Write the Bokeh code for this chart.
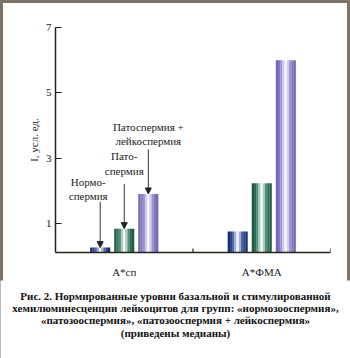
from bokeh.plotting import figure
from bokeh.layouts import column
from bokeh.models import (ColumnDataSource, FactorRange, Range1d, FixedTicker,
                          Arrow, NormalHead)
from bokeh.transform import dodge
from bokeh.core.properties import value
from bokeh.embed import file_html
from bokeh.resources import INLINE

# ---- data ----
categories = ["A*сп", "A*ФМА"]
normo = [0.27, 0.76]
pato = [0.85, 2.24]
leuko = [1.91, 6.0]
y_ticks = [1, 3, 5, 7]
y_label = "I, усл. ед."
ann_normo = ["Нормо-", "спермия"]
ann_pato = ["Пато-", "спермия"]
ann_leuko = ["Патоспермия +", "лейкоспермия"]
caption = [
    "Рис. 2. Нормированные уровни базальной и стимулированной",
    "хемилюминесценции лейкоцитов для групп: «нормозооспермия»,",
    "«патозооспермия», «патозооспермия + лейкоспермия»",
    "(приведены медианы)",
]

SERIF = "Liberation Serif"

src = ColumnDataSource(dict(cat=categories, normo=normo, pato=pato, leuko=leuko))

p = figure(width=350, height=280, x_range=FactorRange(factors=categories, range_padding=0),
           y_range=Range1d(0.12, 7), output_backend="svg", toolbar_location=None,
           min_border_left=55, min_border_right=20, min_border_top=27, min_border_bottom=26)
p.frame_align = False
p.outline_line_color = None
p.xgrid.grid_line_color = None
p.ygrid.grid_line_color = None
p.background_fill_color = "white"
p.border_fill_color = None

# bars drawn as vertical strips for a cylindrical shading
bar_w = 0.145
n = 9
profile = [0, 1, 2, 3, 4, 3, 2, 1, 0]
palettes = {
    "normo": ["#1a2d66", "#2b4789", "#4766a5", "#a3b3d8", "#f4f6fc"],
    "pato": ["#22574a", "#2f6e5a", "#4f8d75", "#a9ccbb", "#f4faf7"],
    "leuko": ["#7468b2", "#8477c2", "#9d91d3", "#d2cbef", "#f8f6fe"],
}
offsets = {"normo": -0.175, "pato": 0.0, "leuko": 0.175}
sw = bar_w / n
for key in ["normo", "pato", "leuko"]:
    for k in range(n):
        off = offsets[key] + (k - (n - 1) / 2) * sw
        p.vbar(x=dodge("cat", off, range=p.x_range), top=key, bottom=0, width=sw * 1.05,
               source=src, fill_color=palettes[key][profile[k]], line_color=None)

# axes
p.yaxis.ticker = FixedTicker(ticks=y_ticks)
p.yaxis.axis_label = y_label
p.yaxis.axis_label_text_font = SERIF
p.yaxis.axis_label_text_font_style = "normal"
p.yaxis.axis_label_text_font_size = "11px"
p.yaxis.axis_label_text_color = "#222"
p.yaxis.axis_label_standoff = 3
p.yaxis.major_label_text_font = SERIF
p.yaxis.major_label_text_font_size = "11px"
p.yaxis.major_label_text_color = "#222"
p.yaxis.major_label_standoff = 4
p.yaxis.major_tick_in = 6
p.yaxis.major_tick_out = 0
p.yaxis.minor_tick_line_color = None
p.yaxis.axis_line_width = 1.5
p.yaxis.axis_line_color = "#222"
p.yaxis.major_tick_line_color = "#222"

p.xaxis.major_tick_line_color = None
p.xaxis.major_label_text_font = SERIF
p.xaxis.major_label_text_font_size = "11px"
p.xaxis.major_label_text_color = "#222"
p.xaxis.major_label_standoff = 7
p.xaxis.axis_line_width = 1.5
p.xaxis.axis_line_color = "#2a2418"

# category boundary ticks
p.segment(x0=[1, 2], x1=[1, 2], y0=[0.12, 0.12], y1=[0.24, 0.24], line_color="#2a2418", line_width=1.2)

# annotations
def annotate(lines, x, ys, arrow_y0, bar_x, bar_top):
    for line, y in zip(lines, ys):
        p.text(x=[x], y=[y], text=[line], text_font=value(SERIF), text_font_size="11px",
               text_align="center", text_baseline="middle", text_color="#222")
    p.add_layout(Arrow(end=NormalHead(size=6, fill_color="#222", line_color="#222"),
                       x_start=bar_x, y_start=arrow_y0, x_end=bar_x, y_end=bar_top,
                       line_color="#333", line_width=1))

annotate(ann_normo, 0.5 + offsets["normo"] - 0.087, [2.27, 1.86], 1.67, 0.5 + offsets["normo"], normo[0])
annotate(ann_pato, 0.5, [3.06, 2.61], 2.21, 0.5 + offsets["pato"], pato[0])
annotate(ann_leuko, 0.5 + offsets["leuko"], [3.97, 3.52], 3.27, 0.5 + offsets["leuko"], leuko[0])

# caption panel (pixel coordinates, y downward)
cap = figure(width=350, height=78, x_range=Range1d(0, 350), y_range=Range1d(78, 0),
             output_backend="svg", toolbar_location=None,
             x_axis_location=None, y_axis_location=None,
             min_border=0, min_border_left=0, min_border_right=0, min_border_top=0, min_border_bottom=0)
cap.frame_align = False
cap.grid.visible = False
cap.outline_line_color = None
cap.background_fill_color = "white"
cap.border_fill_color = None
cap_y = [15, 27.3, 39.6, 52]
cap.text(x=[175] * len(caption), y=cap_y, text=caption, text_font=value(SERIF),
         text_font_style="bold", text_font_size="11px", text_align="center",
         text_baseline="middle", text_color="#111")

layout = column(p, cap, spacing=0, styles={"box-shadow": "inset 0 0 0 3px #7b7367"})

open("out.html", "w").write(file_html(layout, INLINE))
